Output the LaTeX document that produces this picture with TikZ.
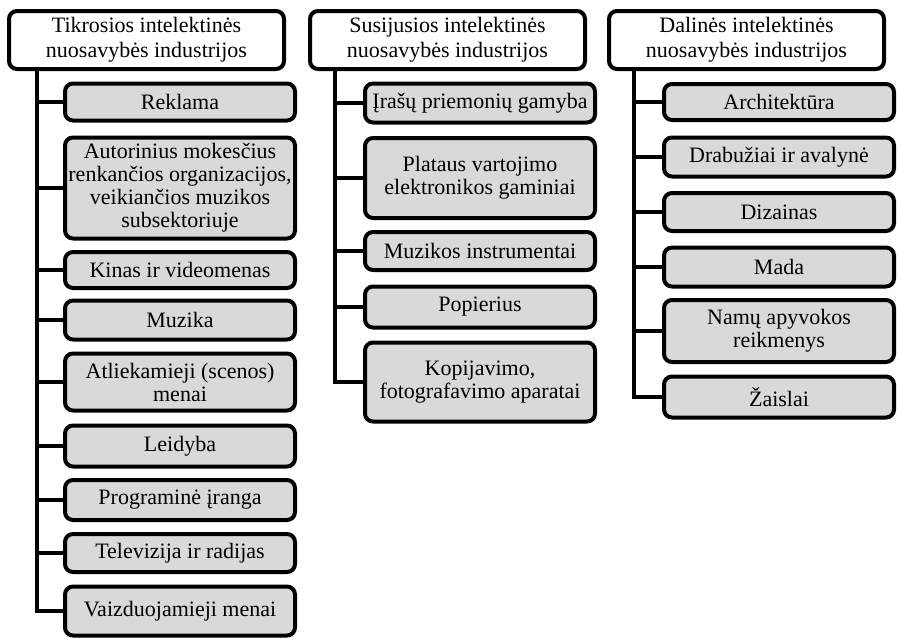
\documentclass[tikz,border=0pt]{standalone}
\usepackage{fontspec}
\setmainfont{Liberation Serif}
\tikzset{
	head/.style={draw, line width=2pt, rounded corners=4pt, fill=white, align=center, minimum width=137.5pt, minimum height=29pt, inner sep=1pt, font=\fontsize{11}{12.5}\selectfont},
	leaf/.style={draw, line width=2pt, rounded corners=4pt, fill=black!15, align=center, minimum width=115pt, inner sep=1pt},
	link/.style={line width=2.25pt}
}
\begin{document}
\begin{tikzpicture}[x=0.5pt,y=-0.5pt,font=\fontsize{11}{11.5}\selectfont]
	\useasboundingbox (0,0) rectangle (899,643);
	
	\node[head] at (146.5,40) (h1) {Tikrosios intelektinės\\nuosavybės industrijos};
	\node[head] at (447.5,40) (h2) {Susijusios intelektinės\\nuosavybės industrijos};
	\node[head] at (746.5,40) (h3) {Dalinės intelektinės\\nuosavybės industrijos};
	
	\coordinate (s1) at (37,70);
	\coordinate (s2) at (335,70);
	\coordinate (s3) at (634,70);
	
	\node[leaf, minimum height=18.5pt] at (180,102) (a1) {Reklama};
	\node[leaf, minimum height=50.5pt] at (180,188) (a2) {Autorinius mokesčius\\renkančios organizacijos,\\veikiančios muzikos\\subsektoriuje};
	\node[leaf, minimum height=18pt] at (180,270) (a3) {Kinas ir videomenas};
	\node[leaf, minimum height=19.5pt] at (180,320) (a4) {Muzika};
	\node[leaf, minimum height=28.5pt] at (180,382) (a5) {Atliekamieji (scenos)\\menai};
	\node[leaf, minimum height=20.5pt] at (180,446) (a6) {Leidyba};
	\node[leaf, minimum height=20pt] at (180,500) (a7) {Programinė įranga};
	\node[leaf, minimum height=19pt] at (180,553) (a8) {Televizija ir radijas};
	\node[leaf, minimum height=24.5pt] at (180,611) (a9) {Vaizduojamieji menai};
	
	\node[leaf, minimum height=19.5pt] at (480,103) (b1) {Įrašų priemonių gamyba};
	\node[leaf, minimum height=40pt] at (480,178) (b2) {Plataus vartojimo\\elektronikos gaminiai};
	\node[leaf, minimum height=19pt] at (480,251) (b3) {Muzikos instrumentai};
	\node[leaf, minimum height=20.5pt] at (480,307) (b4) {Popierius};
	\node[leaf, minimum height=39.5pt] at (480,382) (b5) {Kopijavimo,\\fotografavimo aparatai};
	
	\node[leaf, minimum height=18pt] at (779,102) (c1) {Architektūra};
	\node[leaf, minimum height=19.5pt] at (779,157) (c2) {Drabužiai ir avalynė};
	\node[leaf, minimum height=19pt] at (779,212) (c3) {Dizainas};
	\node[leaf, minimum height=19.5pt] at (779,267) (c4) {Mada};
	\node[leaf, minimum height=31pt] at (779,331) (c5) {Namų apyvokos\\reikmenys};
	\node[leaf, minimum height=20.5pt] at (779,397) (c6) {Žaislai};
	
	\draw[link] (s1) |- (a1.west);
	\draw[link] (s1) |- (a2.west);
	\draw[link] (s1) |- (a3.west);
	\draw[link] (s1) |- (a4.west);
	\draw[link] (s1) |- (a5.west);
	\draw[link] (s1) |- (a6.west);
	\draw[link] (s1) |- (a7.west);
	\draw[link] (s1) |- (a8.west);
	\draw[link] (s1) |- (a9.west);
	
	\draw[link] (s2) |- (b1.west);
	\draw[link] (s2) |- (b2.west);
	\draw[link] (s2) |- (b3.west);
	\draw[link] (s2) |- (b4.west);
	\draw[link] (s2) |- (b5.west);
	
	\draw[link] (s3) |- (c1.west);
	\draw[link] (s3) |- (c2.west);
	\draw[link] (s3) |- (c3.west);
	\draw[link] (s3) |- (c4.west);
	\draw[link] (s3) |- (c5.west);
	\draw[link] (s3) |- (c6.west);
\end{tikzpicture}
\end{document}
